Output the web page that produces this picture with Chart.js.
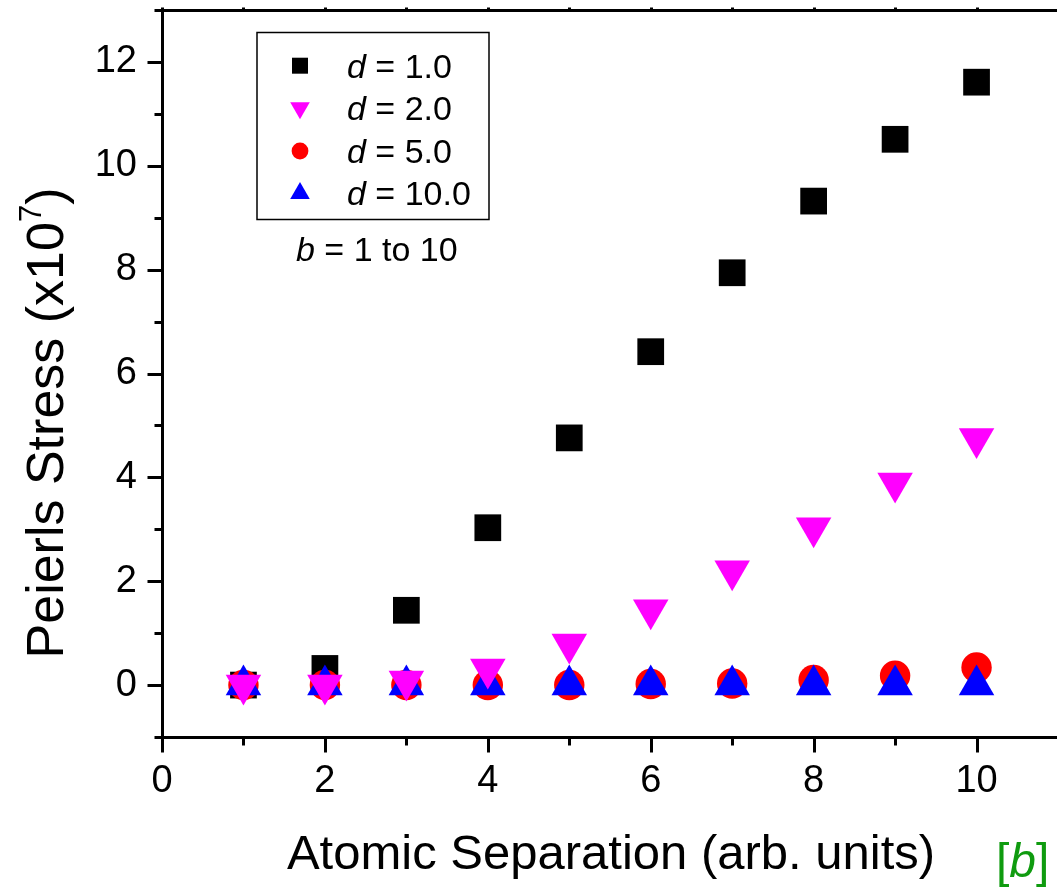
<!DOCTYPE html>
<html><head><meta charset="utf-8">
<script src="https://cdn.jsdelivr.net/npm/chart.js@4/dist/chart.umd.min.js"></script>
<style>html,body{margin:0;padding:0;background:#fff;overflow:hidden;width:1057px;height:888px}canvas{display:block}</style>
</head><body>
<canvas id="c" width="1060" height="888"></canvas>
<script>
// ---- data ----
const separations = [1, 2, 3, 4, 5, 6, 7, 8, 9, 10];
const stressD1  = [0.00, 0.32, 1.44, 3.03, 4.76, 6.42, 7.94, 9.32, 10.51, 11.61];
const stressD2  = [0.00, 0.00, 0.08, 0.31, 0.79, 1.45, 2.20, 3.03, 3.89, 4.75];
const stressD5  = [0.00, 0.00, 0.00, 0.00, 0.00, 0.02, 0.03, 0.10, 0.18, 0.34];
const stressD10 = [0.00, 0.00, 0.00, 0.00, 0.00, 0.00, 0.00, 0.00, 0.00, 0.00];
const seriesNames = ['1.0', '2.0', '5.0', '10.0'];
const xTickLabels = ['0', '2', '4', '6', '8', '10'];
const yTickLabels = ['0', '2', '4', '6', '8', '10', '12'];
const xTitle = 'Atomic Separation (arb. units)';
const yTitle = 'Peierls Stress (x10';
const yTitleSup = '7';
const noteText = ' = 1 to 10';

const FONT = "'Liberation Sans', Arial, sans-serif";
const pts = arr => separations.map((x, i) => ({x: x, y: arr[i]}));

const styles = [
  {style: 'rect', color: '#000000', r: 18.9, rot: 0, lr: 11.3},
  {style: 'triangle', color: '#ff00ff', r: 20.5, rot: 180, lr: 11.3},
  {style: 'circle', color: '#ff0000', r: 15.2, rot: 0, lr: 8.4},
  {style: 'triangle', color: '#0000ff', r: 20.5, rot: 0, lr: 11.3}
];
const seriesData = [stressD1, stressD2, stressD5, stressD10];
const drawOrder = [3, 0, 2, 1];

const datasets = seriesData.map((arr, i) => ({
  label: 'd = ' + seriesNames[i],
  data: pts(arr),
  showLine: false,
  pointStyle: styles[i].style,
  pointRotation: styles[i].rot,
  pointRadius: styles[i].r,
  pointHoverRadius: styles[i].r,
  pointBackgroundColor: styles[i].color,
  backgroundColor: styles[i].color,
  pointBorderWidth: 0,
  borderWidth: 0,
  order: drawOrder[i]
}));

function manualPoint(ctx, st, r, rot, x, y) {
  ctx.beginPath();
  if (st === 'rect') {
    const s = Math.SQRT1_2 * r; ctx.rect(x - s, y - s, 2 * s, 2 * s);
  } else if (st === 'circle') {
    ctx.arc(x, y, r, 0, Math.PI * 2);
  } else {
    let a = rot * Math.PI / 180;
    ctx.moveTo(x + Math.sin(a) * r, y - Math.cos(a) * r);
    a += 2 * Math.PI / 3; ctx.lineTo(x + Math.sin(a) * r, y - Math.cos(a) * r);
    a += 2 * Math.PI / 3; ctx.lineTo(x + Math.sin(a) * r, y - Math.cos(a) * r);
    ctx.closePath();
  }
  ctx.fill();
}

const decor = {
  id: 'decor',
  afterDraw(chart) {
    const ctx = chart.ctx, ca = chart.chartArea;
    const xs = chart.scales.x, ys = chart.scales.y;
    const L = Math.round(ca.left) + 0.5, R = Math.round(ca.right) + 0.5;
    const T = Math.round(ca.top) + 0.5, B = Math.round(ca.bottom) + 0.5;
    ctx.save();
    ctx.strokeStyle = '#000'; ctx.lineWidth = 3; ctx.lineCap = 'butt';
    // frame
    ctx.beginPath();
    ctx.moveTo(L, T - 1.5); ctx.lineTo(L, B + 1.5);
    ctx.moveTo(L - 1.5, B); ctx.lineTo(R + 1.5, B);
    ctx.moveTo(L - 1.5, T); ctx.lineTo(R + 1.5, T);
    ctx.moveTo(R, T); ctx.lineTo(R, B);
    ctx.stroke();
    // y ticks
    ctx.beginPath();
    for (let v = ys.min; v <= ys.max; v++) {
      const p = Math.round(ys.getPixelForValue(v)) + 0.5;
      const len = (v % 2 === 0) ? 15 : 8;
      ctx.moveTo(L - len, p); ctx.lineTo(L, p);
    }
    // x ticks
    for (let v = xs.min; v <= xs.max; v++) {
      const p = Math.round(xs.getPixelForValue(v)) + 0.5;
      const len = (v % 2 === 0) ? 15 : 8;
      ctx.moveTo(p, B); ctx.lineTo(p, B + len);
      ctx.moveTo(p, T); ctx.lineTo(p, T - 3);
    }
    ctx.stroke();

    // legend box
    ctx.lineWidth = 1.5;
    ctx.strokeRect(257, 32.5, 232, 187);
    const rowsMarkerY = [65.7, 108, 151, 193.4];
    const rowsBase = [78, 120, 163, 204.5];
    const H = (window.Chart && Chart.helpers) ? Chart.helpers : null;
    ctx.textAlign = 'left'; ctx.textBaseline = 'alphabetic';
    for (let i = 0; i < 4; i++) {
      const s = styles[i];
      ctx.fillStyle = s.color;
      if (H && H.drawPoint) {
        H.drawPoint(ctx, {pointStyle: s.style, radius: s.lr, rotation: s.rot, borderWidth: 0}, 300, rowsMarkerY[i]);
      } else {
        manualPoint(ctx, s.style, s.lr, s.rot, 300, rowsMarkerY[i]);
      }
      ctx.fillStyle = '#000';
      ctx.font = 'italic 34px ' + FONT;
      ctx.fillText('d', 347, rowsBase[i]);
      const w = ctx.measureText('d').width;
      ctx.font = '34px ' + FONT;
      ctx.fillText(' = ' + seriesNames[i], 347 + w, rowsBase[i]);
    }
    // note
    ctx.font = 'italic 34px ' + FONT;
    ctx.fillText('b', 296, 260.5);
    const wb = ctx.measureText('b').width;
    ctx.font = '34px ' + FONT;
    ctx.fillText(noteText, 296 + wb, 260.5);

    // x title
    ctx.font = '49px ' + FONT;
    ctx.textAlign = 'center';
    ctx.fillText(xTitle, 611, 869);

    // y title (rotated)
    ctx.save();
    ctx.translate(63, 423);
    ctx.rotate(-Math.PI / 2);
    ctx.textAlign = 'left';
    ctx.font = '52px ' + FONT;
    const w1 = ctx.measureText(yTitle).width;
    ctx.font = '31px ' + FONT;
    const w2 = ctx.measureText(yTitleSup).width;
    ctx.font = '52px ' + FONT;
    const w3 = ctx.measureText(')').width;
    const total = w1 + w2 + w3;
    let x0 = -total / 2;
    ctx.fillText(yTitle, x0, 0);
    ctx.font = '31px ' + FONT;
    ctx.fillText(yTitleSup, x0 + w1, -22);
    ctx.font = '52px ' + FONT;
    ctx.fillText(')', x0 + w1 + w2, 0);
    ctx.restore();

    // panel tag [b]
    ctx.fillStyle = '#0f9b0f';
    ctx.textAlign = 'left';
    ctx.font = '48px ' + FONT;
    ctx.fillText('[', 996, 877);
    let wx = 996 + ctx.measureText('[').width;
    ctx.font = 'italic 48px ' + FONT;
    ctx.fillText('b', wx, 877);
    wx += ctx.measureText('b').width;
    ctx.font = '48px ' + FONT;
    ctx.fillText(']', wx, 877);
    ctx.restore();
  }
};

new Chart(document.getElementById('c').getContext('2d'), {
  type: 'scatter',
  data: {datasets: datasets},
  options: {
    responsive: false,
    animation: false,
    events: [],
    devicePixelRatio: 1,
    layout: {autoPadding: false, padding: {left: 0, right: 2, top: 10, bottom: 0}},
    plugins: {legend: {display: false}, tooltip: {enabled: false}},
    scales: {
      x: {
        type: 'linear', min: 0, max: 11,
        grid: {display: true, drawOnChartArea: false, drawTicks: false},
        border: {display: false},
        ticks: {
          stepSize: 1, autoSkip: false, maxRotation: 0, minRotation: 0,
          padding: 22, color: '#000', font: {family: FONT, size: 38},
          callback: v => xTickLabels.includes(String(v)) ? String(v) : null
        },
        afterFit(s) { s.height = 151; s.paddingLeft = 0; s.paddingRight = 0; }
      },
      y: {
        type: 'linear', min: -1, max: 13,
        grid: {display: true, drawOnChartArea: false, drawTicks: false},
        border: {display: false},
        ticks: {
          stepSize: 1, autoSkip: false,
          padding: 25, color: '#000', font: {family: FONT, size: 38},
          callback: v => yTickLabels.includes(String(v)) ? String(v) : null
        },
        afterFit(s) { s.width = 162; s.paddingTop = 0; s.paddingBottom = 0; }
      }
    }
  },
  plugins: [decor]
});
</script>
</body></html>
